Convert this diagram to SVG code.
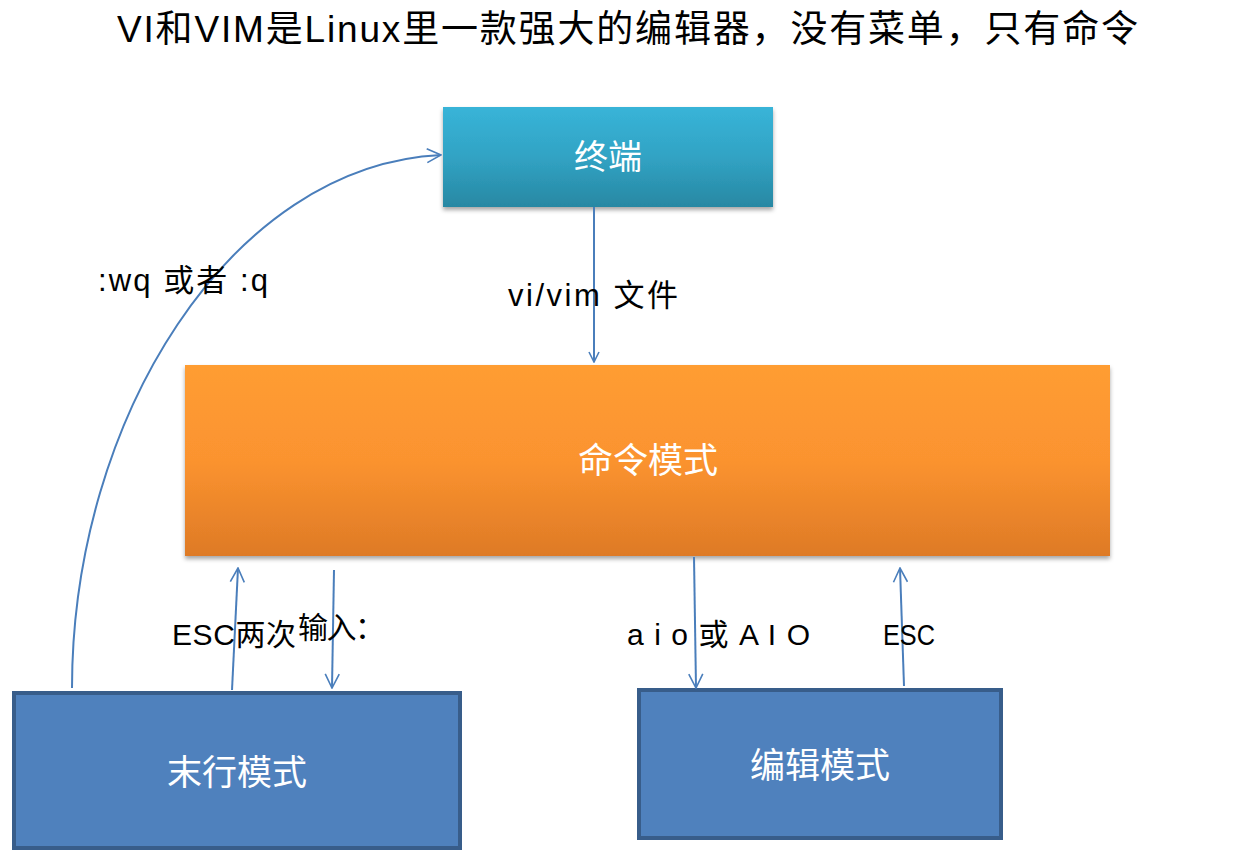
<svg xmlns="http://www.w3.org/2000/svg" width="1241" height="858" viewBox="0 0 1241 858">
<defs>
<linearGradient id="gTeal" x1="0" y1="0" x2="0" y2="1">
<stop offset="0" stop-color="#38b4d8"/>
<stop offset="0.5" stop-color="#31a3c4"/>
<stop offset="1" stop-color="#2888a3"/>
</linearGradient>
<linearGradient id="gOrange" x1="0" y1="0" x2="0" y2="1">
<stop offset="0" stop-color="#ff9d33"/>
<stop offset="0.5" stop-color="#fb932f"/>
<stop offset="1" stop-color="#de7a26"/>
</linearGradient>
<filter id="sh" x="-10%" y="-10%" width="120%" height="130%">
<feDropShadow dx="0" dy="3" stdDeviation="2" flood-color="#000" flood-opacity="0.35"/>
</filter>
<marker id="arr" viewBox="0 0 12 12" refX="11" refY="6" markerWidth="12" markerHeight="12" markerUnits="userSpaceOnUse" orient="auto">
<polyline points="1,1 11,6 1,11" fill="none" stroke="#4a7ebb" stroke-width="1.6"/>
</marker>
<marker id="arrB" viewBox="0 0 16 16" refX="15" refY="8" markerWidth="16" markerHeight="16" markerUnits="userSpaceOnUse" orient="auto">
<polyline points="1,1 15,8 1,15" fill="none" stroke="#4a7ebb" stroke-width="1.6"/>
</marker>
</defs>
<style>
.t{font-family:"Liberation Sans","Noto Sans CJK SC",sans-serif;fill:#000;}
.w{font-family:"Liberation Sans","Noto Sans CJK SC",sans-serif;fill:#fff;text-anchor:middle;}
.c{fill:none;stroke:#4a7ebb;stroke-width:2;}
.blue{fill:#4f81bd;stroke:#385d8a;stroke-width:4;}
</style>
<rect width="1241" height="858" fill="#fff"/>
<text class="t" x="117" y="42" font-size="37" textLength="1021" lengthAdjust="spacing">VI和VIM是Linux里一款强大的编辑器，没有菜单，只有命令</text>

<g id="terminal">
<rect x="443" y="107" width="330" height="100" fill="url(#gTeal)" filter="url(#sh)"/>
<text class="w" x="608" y="169" font-size="34">终端</text>
</g>

<g id="command-mode">
<rect x="185" y="365" width="925" height="191" fill="url(#gOrange)" filter="url(#sh)"/>
<text class="w" x="648" y="473" font-size="35">命令模式</text>
</g>

<g id="last-line-mode">
<rect class="blue" x="14" y="693" width="446" height="155"/>
<text class="w" x="237" y="785" font-size="35">末行模式</text>
</g>

<g id="edit-mode">
<rect class="blue" x="639" y="690" width="362" height="148"/>
<text class="w" x="820" y="778" font-size="35">编辑模式</text>
</g>

<g id="connectors">
<line class="c" x1="594" y1="207" x2="594" y2="362" marker-end="url(#arr)"/>
<path class="c" d="M72,688 C72,420 230,165 441,155" marker-end="url(#arrB)"/>
<line class="c" x1="232" y1="690" x2="238" y2="568" marker-end="url(#arrB)"/>
<line class="c" x1="334" y1="570" x2="332" y2="688" marker-end="url(#arrB)"/>
<line class="c" x1="694" y1="557" x2="696" y2="688" marker-end="url(#arrB)"/>
<line class="c" x1="904" y1="686" x2="900" y2="568" marker-end="url(#arrB)"/>
</g>

<g id="labels">
<text class="t" x="98" y="291" font-size="31" textLength="170" lengthAdjust="spacing">:wq 或者 :q</text>
<text class="t" x="508" y="306" font-size="31" textLength="170" lengthAdjust="spacing">vi/vim 文件</text>
<text class="t" x="172" y="645" font-size="30" textLength="124" lengthAdjust="spacing">ESC两次</text>
<text class="t" x="298" y="638" font-size="30" textLength="87" lengthAdjust="spacing">输入：</text>
<text class="t" x="627" y="645" font-size="30" textLength="183" lengthAdjust="spacing">a i o 或 A I O</text>
<text class="t" x="883" y="645" font-size="29" textLength="52" lengthAdjust="spacingAndGlyphs">ESC</text>
</g>
</svg>
